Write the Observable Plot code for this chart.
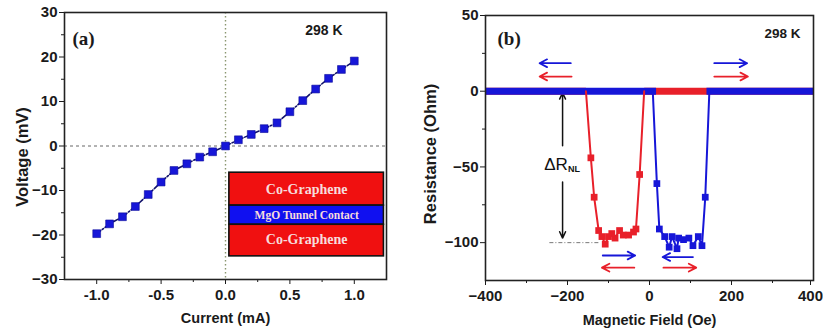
<!DOCTYPE html>
<html>
<head>
<meta charset="utf-8">
<script src="https://cdn.jsdelivr.net/npm/d3@7"></script>
<script src="https://cdn.jsdelivr.net/npm/@observablehq/plot@0.6"></script>
<style>
  html, body { margin: 0; padding: 0; background: #fff; }
  #wrap { position: relative; width: 823px; height: 331px; overflow: hidden; background: #fff; }
  #left, #right { position: absolute; top: 0; }
  #left { left: 0; }
  #right { left: 420px; }
  svg { overflow: visible; }
</style>
</head>
<body>
<div id="wrap">
  <div id="left"></div>
  <div id="right"></div>
</div>
<script>
// (a) I–V characteristic of the Co-graphene / MgO / Co-graphene junction
const current = [-1.0, -0.9, -0.8, -0.7, -0.6, -0.5, -0.4, -0.3, -0.2, -0.1, 0.0,
                 0.1, 0.2, 0.3, 0.4, 0.5, 0.6, 0.7, 0.8, 0.9, 1.0];
const voltage = [-19.7, -17.5, -15.9, -13.6, -10.9, -8.1, -5.5, -4.0, -2.5, -1.3, 0.0,
                 1.4, 2.6, 3.9, 5.2, 7.7, 10.2, 12.8, 15.2, 17.2, 19.1];
const xTicksA = [-1.0, -0.5, 0.0, 0.5, 1.0];
const xMinorA = [-0.75, -0.25, 0.25, 0.75];
const yTicksA = [-30, -20, -10, 0, 10, 20, 30];
const yMinorA = [-25, -15, -5, 5, 15, 25];
const layers = ["Co-Graphene", "MgO Tunnel Contact", "Co-Graphene"];

// (b) non-local spin-valve signal at 298 K
// up sweep (blue): dip between the two switching fields
const upField = [18, 24, 37, 48, 55, 67, 71, 83, 96, 106, 119, 128, 136];
const upRes   = [-61, -91, -96, -103, -96, -104, -97, -98, -97, -102, -96, -102, -70];
// down sweep (red)
const downField = [-24, -33, -39, -51, -64, -73, -84, -92, -100, -108, -116, -124, -135, -143];
const downRes   = [-55, -91, -93, -95, -95, -92, -97, -94, -96, -101, -96, -92, -70, -44];
// where each sweep leaves and rejoins the baseline
const upSwitch = [8, 146];
const downSwitch = [-13, -155];
// baseline (parallel state) stretches of each sweep
const blueBaseline = [[-400, 16], [139, 400]];
const redBaseline = [[-13, 400], [-400, -155]];
const deltaR = 100;
const xTicksB = [-400, -200, 0, 200];
const xEdgeB = [400];
const xMinorB = [-300, -100, 100, 300];
const yTicksB = [-100, -50, 0, 50];
const yMinorB = [-75, -25, 25];

const BLUE = "#1616d8";
const RED = "#e8202a";
const FONT = "'Liberation Sans', Arial, Helvetica, sans-serif";
const SERIF = "'Liberation Serif', 'Times New Roman', serif";

const baseStyle = {fontFamily: FONT, fontSize: "15px", fontWeight: "bold", color: "#1a1a1a", background: "#fff"};

// ---------- panel (a) ----------
const iv = current.map((c, i) => ({c, v: voltage[i]}));
const stack = [
  {y1: -6.0, y2: -13.4, fill: "#f01010", label: layers[0], size: 14, yl: -9.8},
  {y1: -13.4, y2: -17.7, fill: "#1010f0", label: layers[1], size: 11.5, yl: -15.6},
  {y1: -17.7, y2: -24.8, fill: "#f01010", label: layers[2], size: 14, yl: -21.1}
];

const plotA = Plot.plot({
  width: 400, height: 331,
  marginLeft: 64, marginRight: 14, marginTop: 12, marginBottom: 52,
  style: baseStyle,
  x: {domain: [-1.25, 1.25]},
  y: {domain: [-30, 30]},
  marks: [
    Plot.ruleY([0], {stroke: "#666", strokeDasharray: "3,3", strokeWidth: 1}),
    Plot.ruleX([0], {stroke: "#8a9670", strokeDasharray: "1.5,2.5", strokeWidth: 1.4}),
    Plot.line(iv, {x: "c", y: "v", stroke: "#12126a", strokeWidth: 1.6, strokeDasharray: "5,2,1.5,2"}),
    Plot.dot(iv, {x: "c", y: "v", symbol: "square", r: 4.4, fill: BLUE, stroke: "#0c0c9a", strokeWidth: 0.6}),
    Plot.rect(stack, {x1: 0.03, x2: 1.23, y1: "y1", y2: "y2", fill: "fill", stroke: "#111", strokeWidth: 1.6}),
    Plot.text(stack, {x: 0.63, y: "yl", text: "label", fontFamily: SERIF, fontSize: (d) => d.size, fontWeight: "bold", fill: "#f6dcdc"}),
    Plot.axisX(xTicksA, {tickSize: 5, tickPadding: 5, tickFormat: (d) => d.toFixed(1), label: null, fontSize: 15}),
    Plot.axisX(xMinorA, {tickSize: 3, text: null, label: null}),
    Plot.axisY(yTicksA, {tickSize: 5, tickPadding: 2, label: null, fontSize: 15}),
    Plot.axisY(yMinorA, {tickSize: 3, text: null, label: null}),
    Plot.frame({stroke: "#222", strokeWidth: 1.6}),
    Plot.text(["(a)"], {frameAnchor: "top-left", dx: 8, dy: 26, textAnchor: "start", lineAnchor: "middle", fontFamily: SERIF, fontSize: 19, fontWeight: "bold"}),
    Plot.text(["298 K"], {frameAnchor: "top-right", dx: -44, dy: 18, textAnchor: "end", lineAnchor: "middle", fontSize: 14}),
    Plot.text(["Current (mA)"], {frameAnchor: "bottom", dy: 39, textAnchor: "middle", lineAnchor: "middle", fontSize: 14.5}),
    Plot.text(["Voltage (mV)"], {frameAnchor: "left", dx: -42, dy: 11, rotate: -90, textAnchor: "middle", lineAnchor: "middle", fontSize: 16.5})
  ]
});
document.getElementById("left").append(plotA);

// ---------- panel (b) ----------
const up = upField.map((f, i) => ({f, r: upRes[i]}));
const down = downField.map((f, i) => ({f, r: downRes[i]}));
const upCurve = [{f: upSwitch[0], r: 0}, ...up, {f: upSwitch[1], r: 0}];
const downCurve = [{f: downSwitch[0], r: 0}, ...down, {f: downSwitch[1], r: 0}];
const seg = (pairs) => pairs.flatMap(([a, b], k) => [{f: a, r: 0, k}, {f: b, r: 0, k}]);

// sweep-direction arrows
const sweepArrows = [
  {x1: -192, x2: -268, y: 18.5, c: BLUE},
  {x1: -190, x2: -268, y: 9.7, c: RED},
  {x1: 158, x2: 238, y: 18.5, c: BLUE},
  {x1: 158, x2: 240, y: 9.7, c: RED},
  {x1: -114, x2: -35, y: -108.5, c: BLUE},
  {x1: -37, x2: -116, y: -116.5, c: RED},
  {x1: 106, x2: 32, y: -109.5, c: BLUE},
  {x1: 34, x2: 114, y: -116.5, c: RED}
];
const markerX = -212;

const plotB = Plot.plot({
  width: 403, height: 331,
  marginLeft: 65, marginRight: 10, marginTop: 15, marginBottom: 51,
  style: baseStyle,
  x: {domain: [-400, 400]},
  y: {domain: [-125, 50]},
  marks: [
    // guide at the antiparallel level
    Plot.ruleY([-deltaR], {x1: -243, x2: -120, stroke: "#777", strokeDasharray: "4,2,1,2", strokeWidth: 1}),
    // ΔR marker
    Plot.arrow([{y1: -deltaR * 0.36, y2: -1}], {x: markerX, y1: "y1", y2: "y2", stroke: "#111", strokeWidth: 1.5, headLength: 7, headAngle: 50}),
    Plot.arrow([{y1: -deltaR * 0.6, y2: -deltaR * 0.97}], {x: markerX, y1: "y1", y2: "y2", stroke: "#111", strokeWidth: 1.5, headLength: 7, headAngle: 50}),
    // baselines
    Plot.line(seg(redBaseline), {x: "f", y: "r", z: "k", stroke: RED, strokeWidth: 7, strokeLinecap: "butt"}),
    Plot.line(seg(blueBaseline), {x: "f", y: "r", z: "k", stroke: BLUE, strokeWidth: 7, strokeLinecap: "butt"}),
    // dips
    Plot.line(downCurve, {x: "f", y: "r", stroke: RED, strokeWidth: 2}),
    Plot.line(upCurve, {x: "f", y: "r", stroke: BLUE, strokeWidth: 2}),
    Plot.dot(down, {x: "f", y: "r", symbol: "square", r: 3.8, fill: RED}),
    Plot.dot(up, {x: "f", y: "r", symbol: "square", r: 3.8, fill: BLUE}),
    Plot.arrow(sweepArrows, {x1: "x1", x2: "x2", y1: "y", y2: "y", stroke: "c", strokeWidth: 1.8, headLength: 7, headAngle: 55}),
    Plot.axisX(xTicksB, {tickSize: 5, tickPadding: 5, label: null, fontSize: 15}),
    Plot.axisX(xEdgeB, {tickSize: 5, tickPadding: 5, label: null, fontSize: 15, dx: -3}),
    Plot.axisX(xMinorB, {tickSize: 3, text: null, label: null}),
    Plot.axisY(yTicksB, {tickSize: 5, tickPadding: 2, label: null, fontSize: 15}),
    Plot.axisY(yMinorB, {tickSize: 3, text: null, label: null}),
    Plot.frame({stroke: "#222", strokeWidth: 1.6}),
    Plot.text(["(b)"], {frameAnchor: "top-left", dx: 12, dy: 23, textAnchor: "start", lineAnchor: "middle", fontFamily: SERIF, fontSize: 19, fontWeight: "bold"}),
    Plot.text(["298 K"], {frameAnchor: "top-right", dx: -13, dy: 18, textAnchor: "end", lineAnchor: "middle", fontSize: 13.5}),
    Plot.text(["Magnetic Field (Oe)"], {frameAnchor: "bottom", dy: 40, textAnchor: "middle", lineAnchor: "middle", fontSize: 14.5}),
    Plot.text(["Resistance (Ohm)"], {frameAnchor: "left", dx: -55, dy: 6, rotate: -90, textAnchor: "middle", lineAnchor: "middle", fontSize: 16.5})
  ]
});
document.getElementById("right").append(plotB);

// ΔR_NL label with subscript, placed between the two arrow halves
{
  const sx = plotB.scale("x"), sy = plotB.scale("y");
  const t = d3.select(plotB).append("text")
    .attr("x", sx.apply(markerX))
    .attr("y", sy.apply(-deltaR / 2))
    .attr("text-anchor", "middle")
    .attr("dominant-baseline", "middle")
    .attr("font-family", FONT)
    .attr("font-size", 17)
    .attr("font-weight", "normal")
    .attr("fill", "#111");
  t.append("tspan").text("ΔR");
  t.append("tspan").attr("font-size", 9).attr("font-weight", "bold").attr("dy", 4).text("NL");
}
</script>
</body>
</html>
